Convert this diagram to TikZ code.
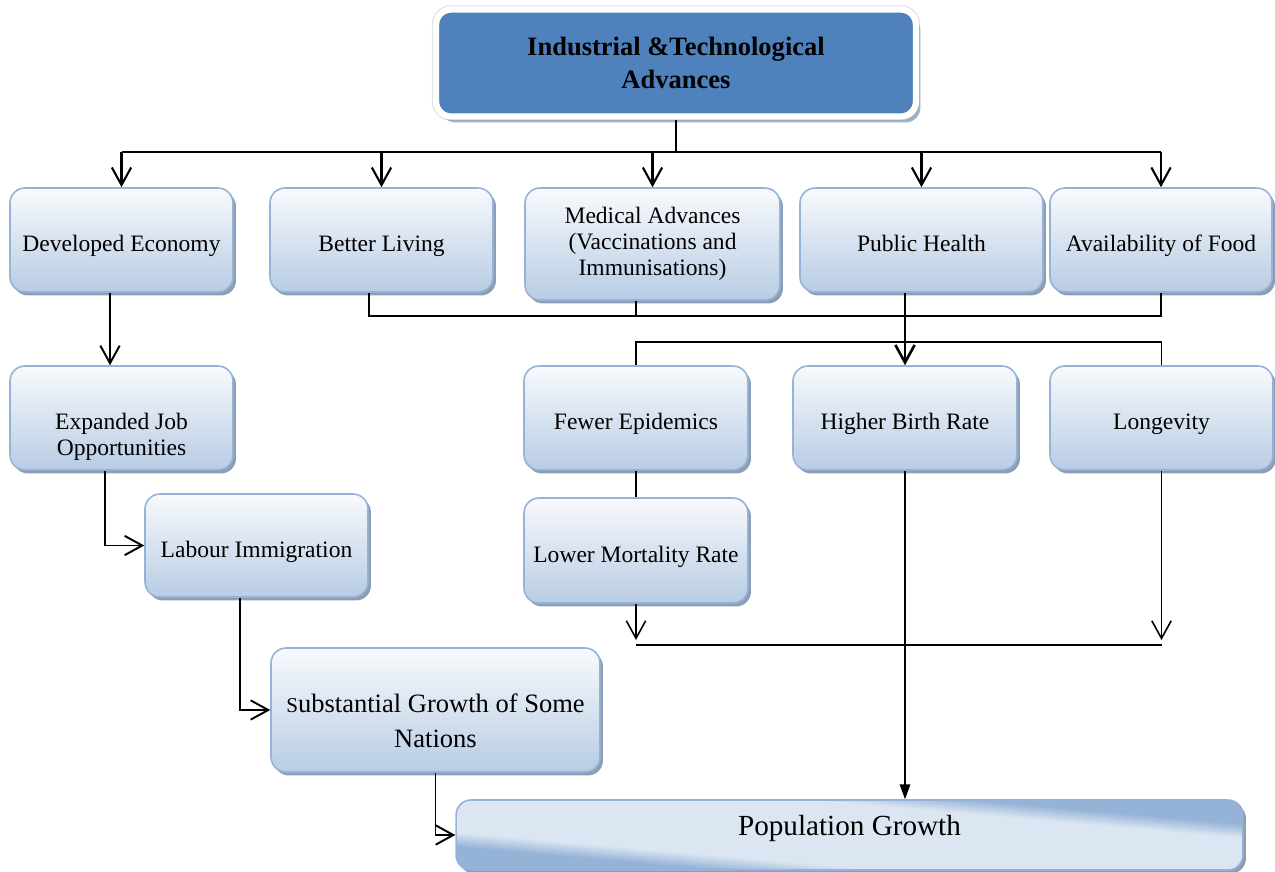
\documentclass[tikz,border=0pt]{standalone}
\usepackage{fontspec}
\setmainfont{Liberation Serif}
\usepackage{tikz}
\usetikzlibrary{arrows.meta, shadows, calc}
\definecolor{boxtop}{RGB}{248, 250, 253}
\definecolor{boxbottom}{RGB}{184, 204, 228}
\definecolor{boxedge}{RGB}{149, 179, 215}
\definecolor{boxshadow}{RGB}{128, 146, 172}
\definecolor{titleblue}{RGB}{79, 129, 189}
\definecolor{poplight}{RGB}{220, 230, 242}
\pgfdeclarehorizontalshading{popshade}{100bp}{color(0bp)=(boxedge); color(32bp)=(boxedge); color(37.6bp)=(poplight); color(62.4bp)=(poplight); color(68bp)=(boxedge); color(100bp)=(boxedge)}

\begin{document}
\begin{tikzpicture}[x=0.02cm, y=-0.02cm,
        box/.style={rectangle, rounded corners=0.3cm, draw=boxedge, line width=0.9pt,
            top color=boxtop, bottom color=boxbottom,
            minimum width=4.46cm, minimum height=2.08cm, align=center,
            font=\fontsize{13.4}{14.8}\selectfont, text height=13.2pt, text depth=0pt,
            drop shadow={shadow xshift=0.06cm, shadow yshift=-0.07cm, fill=boxshadow, opacity=0.9}},
        multibox/.style={box, text height=, text depth=},
        titlebox/.style={rectangle, rounded corners=0.3cm, fill=titleblue, draw=white, line width=3.6pt,
            minimum width=9.6cm, minimum height=2.14cm, align=center,
            font=\bfseries\fontsize{15.1}{18.7}\selectfont,
            preaction={draw=gray!25, line width=4.8pt},
            drop shadow={shadow xshift=0.09cm, shadow yshift=-0.12cm, fill=boxshadow!80, opacity=0.9}},
        link/.style={line width=0.9pt},
        arr/.style={-{Straight Barb[length=10pt, width=11pt]}, line width=0.9pt},
        fillarr/.style={-{Triangle[length=8.5pt, width=6pt]}, line width=0.9pt}
    ]
        \useasboundingbox (0,0) rectangle (1275,872);

        % Top
        \node[titlebox] (title) at (676,63) {Industrial \&Technological\\Advances};

        % First row
        \node[box] (econ) at (121.5,240) {Developed Economy};
        \node[box] (living) at (381.5,240) {Better Living};
        \node[multibox, minimum width=5.1cm, minimum height=2.24cm] (medical) at (652.5,244) {Medical Advances\\(Vaccinations and\\Immunisations)};
        \node[box, minimum width=4.86cm] (health) at (921.5,240) {Public Health};
        \node[box, minimum width=4.44cm] (food) at (1161,240) {Availability of Food};

        % Second row
        \node[multibox] (jobs) at (121.5,418) {\mbox{}\\[15.4pt]Expanded Job\\Opportunities};
        \node[box, minimum width=4.48cm] (fewer) at (636,418) {Fewer Epidemics};
        \node[box, minimum width=4.48cm] (birth) at (905,418) {Higher Birth Rate};
        \node[box] (longevity) at (1161.5,418) {Longevity};

        % Lower boxes
        \node[box, minimum width=4.48cm, minimum height=2.1cm] (lowmort) at (636,550.5) {Lower Mortality Rate};
        \node[box, minimum height=2.06cm] (labour) at (256.5,545.5) {Labour Immigration};
        \node[multibox, minimum width=6.58cm, minimum height=2.48cm, font=\fontsize{15.1}{19.8}\selectfont] (subst) at (435.5,710)
            {\mbox{}\\[2.8pt]{\fontsize{12}{12}\selectfont S}ubstantial Growth of Some\\Nations};

        % Population growth
        \node[box, minimum width=15.74cm, minimum height=1.4cm, font=\fontsize{16.6}{18}\selectfont,
            text height=0.25cm, text depth=0.25cm, shading=popshade, shading angle=84.9] (pop) at (849.5,835) {Population Growth};

        % Top bus
        \coordinate (bus) at (676,152);
        \draw[link, line width=1.2pt] (title.south) -- (bus);
        \draw[link, line width=1.2pt] (econ.north |- bus) -- (food.north |- bus);
        \foreach \n in {econ, living, medical, health, food}
            \draw[arr, line width=1.2pt] (\n.north |- bus) -- (\n.north);

        % Joining lines under the first row
        \coordinate (join) at (0,316);
        \coordinate (split) at (0,342);
        \coordinate (lv) at ([xshift=-0.25cm]living.south);
        \draw[link] (lv) -- (lv |- join) -- (food.south |- join) -- (food.south);
        \draw[link] (fewer.north |- medical.south) -- (fewer.north |- join);
        \draw[link] (fewer.north) -- (fewer.north |- split) -- (longevity.north |- split) -- (longevity.north);
        \draw[arr, line width=1.5pt] (birth.north |- health.south) -- (birth.north);

        % Left chain
        \coordinate (e1) at ([xshift=-0.23cm]econ.south);
        \draw[arr, line width=1.1pt] (e1) -- (e1 |- jobs.north);
        \coordinate (j1) at ([xshift=-0.33cm]jobs.south);
        \draw[arr, line width=1.1pt] (j1) |- (labour.west);
        \coordinate (l1) at ([xshift=-0.33cm]labour.south);
        \draw[arr, line width=1.1pt] (l1) |- (subst.west);
        \draw[arr, line width=1.1pt] (subst.south) |- (pop.west);

        % Right chain
        \coordinate (tip) at (0,640);
        \coordinate (merge) at (0,645);
        \draw[link] (fewer.south) -- (lowmort.north);
        \draw[arr] (lowmort.south) -- (lowmort.south |- tip);
        \draw[arr] (longevity.south) -- (longevity.south |- tip);
        \draw[link] (lowmort.south |- merge) -- (longevity.south |- merge);
        \draw[fillarr] (birth.south) -- (birth.south |- pop.north);
\end{tikzpicture}
\end{document}
